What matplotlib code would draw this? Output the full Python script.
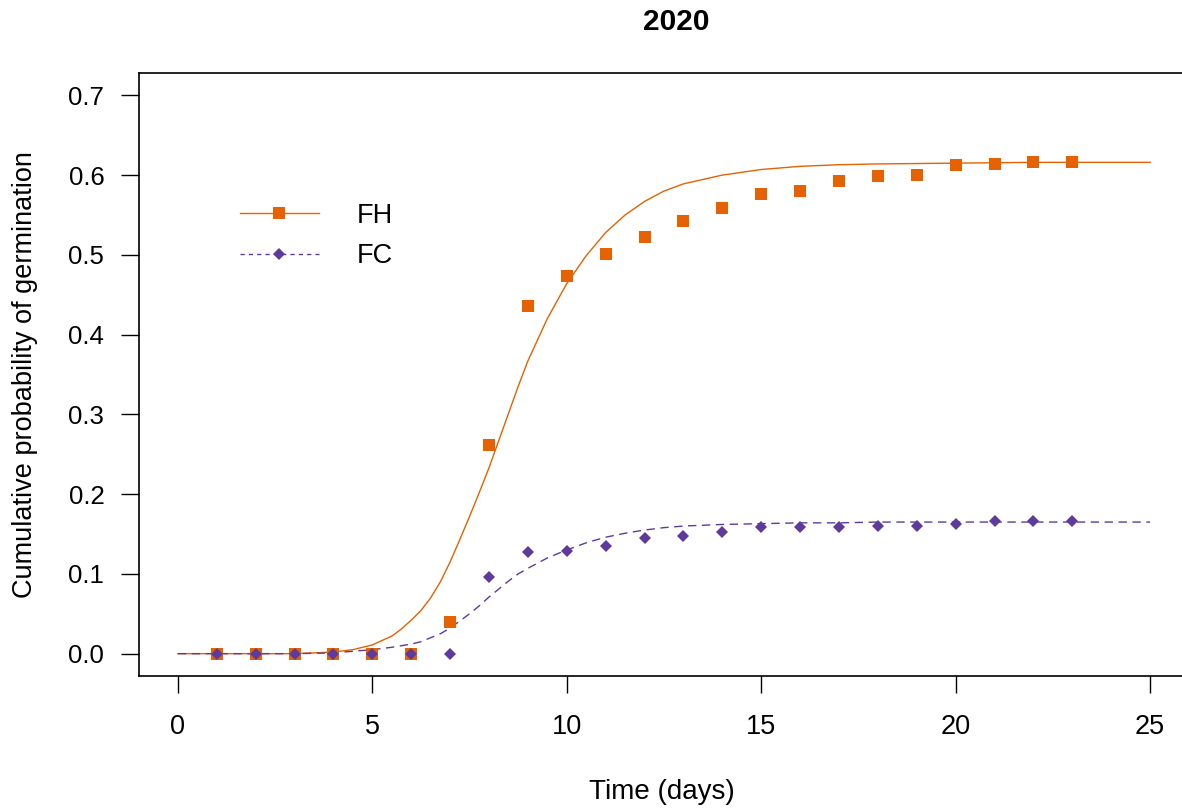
import matplotlib

matplotlib.use("Agg")
import matplotlib.pyplot as plt

plt.rcParams["font.family"] = ["Liberation Sans", "DejaVu Sans"]

days = [1, 2, 3, 4, 5, 6, 7, 8, 9, 10, 11, 12, 13, 14, 15, 16, 17, 18, 19, 20, 21, 22, 23]
fh_obs = [0.0, 0.0, 0.0, 0.0, 0.0, 0.0, 0.040, 0.261, 0.436, 0.474, 0.501, 0.522,
          0.542, 0.559, 0.576, 0.580, 0.593, 0.599, 0.600, 0.613, 0.614, 0.616, 0.617]
fc_obs = [0.0, 0.0, 0.0, 0.0, 0.0, 0.0, 0.0, 0.096, 0.127, 0.129, 0.135, 0.145,
          0.148, 0.152, 0.159, 0.159, 0.159, 0.160, 0.160, 0.162, 0.166, 0.166, 0.166]

# fitted curves
fit_x = [0, 1, 2, 3, 4, 4.5, 5, 5.5, 5.75, 6, 6.25, 6.5, 6.75, 7, 7.25, 7.5, 7.75,
         8, 8.25, 8.5, 8.75, 9, 9.5, 10, 10.5, 11, 11.5, 12, 12.5, 13, 14, 15,
         16, 17, 18, 20, 22, 25]
fh_fit = [0.0, 0.0, 0.0, 0.0, 0.002, 0.005, 0.011, 0.022, 0.031, 0.042, 0.054,
          0.070, 0.090, 0.115, 0.143, 0.172, 0.202, 0.233, 0.267, 0.301, 0.335,
          0.367, 0.420, 0.464, 0.499, 0.528, 0.550, 0.567, 0.580, 0.589, 0.600,
          0.607, 0.611, 0.613, 0.614, 0.615, 0.616, 0.616]
fc_fit = [0.0, 0.0, 0.0, 0.0, 0.001, 0.003, 0.005, 0.008, 0.010, 0.012, 0.015,
          0.020, 0.025, 0.032, 0.041, 0.050, 0.060, 0.071, 0.081, 0.091, 0.100,
          0.107, 0.120, 0.130, 0.139, 0.146, 0.151, 0.155, 0.158, 0.160, 0.162,
          0.163, 0.164, 0.164, 0.165, 0.165, 0.165, 0.165]

x_ticks = [0, 5, 10, 15, 20, 25]
y_ticks = [0.0, 0.1, 0.2, 0.3, 0.4, 0.5, 0.6, 0.7]

orange = "#E66100"
purple = "#5D3A9B"

W, H = 1182, 810
fig = plt.figure(figsize=(W / 100, H / 100), dpi=100)
# box spans past the right edge of the image, as in the original
ax = fig.add_axes([139 / W, 1 - 676 / H, (1189 - 139) / W, (676 - 73) / H])

ax.plot(fit_x, fh_fit, color=orange, lw=1.0)
ax.plot(fit_x, fc_fit, color=purple, lw=1.0, dashes=(6, 4))
ax.plot(days, fh_obs, "s", color=orange, ms=9, mew=0)
ax.plot(days, fc_obs, "D", color=purple, ms=6.3, mew=0)

ax.set_xlim(-1, 26)
ax.set_ylim(-0.028, 0.728)
ax.set_xticks(x_ticks)
ax.set_yticks(y_ticks)
ax.set_xticklabels([str(t) for t in x_ticks], fontsize=19.5)
ax.set_yticklabels([f"{t:.1f}" for t in y_ticks], fontsize=18.5)
ax.tick_params(axis="y", length=13, width=1, pad=12)
ax.tick_params(axis="x", length=12, width=1, pad=15)
for side in ("left", "bottom", "top", "right"):
    ax.spines[side].set_linewidth(1.2)

ax.set_xlabel("Time (days)", fontsize=20)
ax.xaxis.set_label_coords((662 - 139) / 1050, (676 - 792) / 603)
ax.xaxis.label.set_va("center")
ax.set_ylabel("Cumulative probability of germination", fontsize=19.5)
ax.yaxis.set_label_coords((25 - 139) / 1050, 0.5)
ax.yaxis.label.set_va("center")

fig.text(676 / W, 1 - 22 / H, "2020", fontsize=21.5, fontweight="bold",
         ha="center", va="center")

handles = [
    plt.Line2D([], [], color=orange, lw=1.0, marker="s", ms=9, mew=0),
    plt.Line2D([], [], color=purple, lw=1.0, dashes=(3, 3), marker="D", ms=6.3, mew=0),
]
ax.legend(handles, ["FH", "FC"], loc="center left",
          bbox_to_anchor=((240 - 139) / 1050, (676 - 236) / 603),
          frameon=False, fontsize=19.5, handlelength=2.9, handletextpad=1.4,
          labelspacing=0.52, borderpad=0, borderaxespad=0)

fig.savefig("out.png", dpi=100)
